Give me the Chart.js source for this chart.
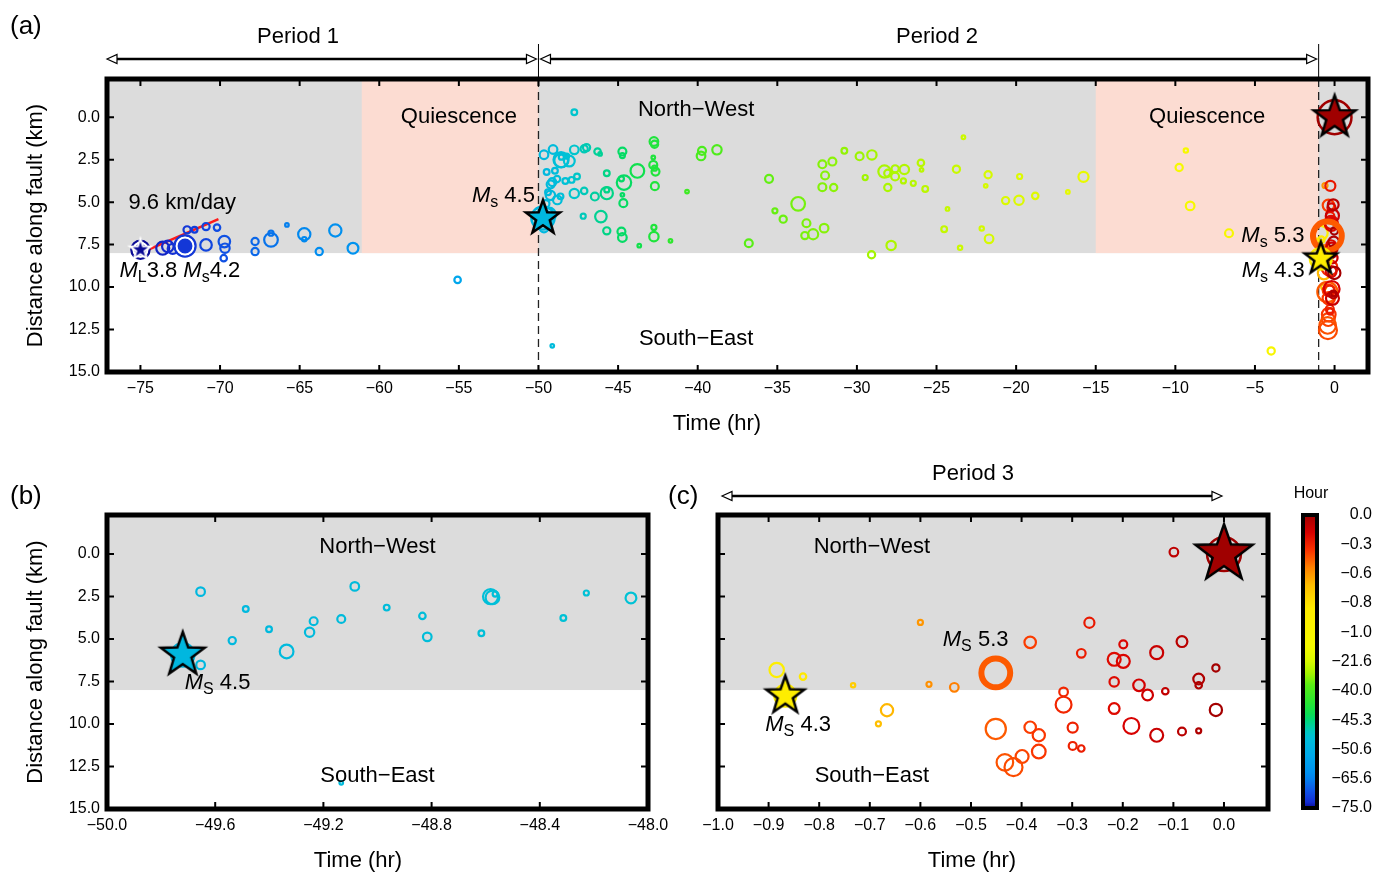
<!DOCTYPE html>
<html>
<head>
<meta charset="utf-8">
<title>Migration of seismicity along the fault</title>
<script src="https://cdn.jsdelivr.net/npm/chart.js@4.4.1/dist/chart.umd.min.js"></script>
<style>
  body { margin: 0; background: #fff; }
  .wrap { position: relative; width: 1378px; height: 875px; }
  canvas { position: absolute; }
</style>
</head>
<body>
<div class="wrap">
  <canvas id="chartA" width="1378" height="445" style="left:0;top:0"></canvas>
  <canvas id="chartB" width="680" height="435" style="left:0;top:440px"></canvas>
  <canvas id="chartC" width="660" height="435" style="left:650px;top:440px"></canvas>
  <canvas id="colorBar" width="98" height="355" style="left:1280px;top:470px"></canvas>
</div>
<script>
// ---- data (time in hours before the main shock, distance along fault in km) ----

// colour bar labels, evenly spaced on the bar
const cbTicks = [-75.0, -65.6, -50.6, -45.3, -40.0, -21.6, -1.0, -0.8, -0.6, -0.3, 0.0];

const xTicksA = [-75, -70, -65, -60, -55, -50, -45, -40, -35, -30, -25, -20, -15, -10, -5, 0];
const xTicksB = [-50.0, -49.6, -49.2, -48.8, -48.4, -48.0];
const xTicksC = [-1.0, -0.9, -0.8, -0.7, -0.6, -0.5, -0.4, -0.3, -0.2, -0.1, 0.0];
const yTicks = [0, 2.5, 5, 7.5, 10, 12.5, 15];

// period 1
const p1Time = [-73.6, -73.28, -72.97, -72.07, -71.6, -70.88, -70.88, -70.19, -69.73, -69.69, -69.77,
  -67.8, -67.8, -66.8, -66.8, -65.8, -64.71, -64.71, -63.77, -62.76, -61.65, -55.08];
const p1Dist = [7.71, 7.61, 7.75, 6.63, 6.63, 6.44, 7.52, 6.5, 7.32, 7.71, 8.30,
  7.32, 7.91, 7.22, 6.83, 6.34, 6.89, 7.18, 7.91, 6.67, 7.71, 9.58];
const p1Mag = [3.1, 2.9, 2.7, 2.3, 2.1, 2.3, 2.9, 2.2, 2.9, 2.6, 2.2,
  2.3, 2.3, 3.2, 2.0, 1.8, 3.0, 1.9, 2.3, 3.0, 2.8, 2.2];

// period 2
const p2Time = [
  -49.654, -49.654, -49.487, -49.537, -49.401, -49.336, -49.251, -49.236, -49.134, -49.084,
  -48.966, -48.834, -48.816, -48.616, -48.582, -48.575, -48.565, -48.313, -48.228, -48.063, -49.134,
  -47.75, -47.75, -47.13, -46.98, -47.92, -47.58, -47.75, -47.13, -47.19,
  -46.29, -46.13, -44.73, -44.73, -42.75, -42.71, -42.79, -42.79, -42.65, -42.71, -42.69,
  -45.71, -43.79, -44.63, -44.79, -45.71, -45.71, -46.46, -44.73, -44.67, -46.08,
  -45.71, -44.79, -44.73, -42.75, -42.75, -43.67, -41.71, -40.67, -39.73, -39.79, -38.79,
  -36.79, -35.52, -35.15, -34.63, -33.69, -33.17, -33.27, -32.75, -32.06, -32.17, -31.54, -32.0, -32.17, -31.46,
  -30.79, -29.83, -29.06, -29.48, -29.08, -27.85, -28.27, -28.06, -27.6, -27.6, -27.02, -28.06, -27.08, -26.46,
  -25.98, -25.94, -25.71, -24.31, -24.52,
  -23.31, -23.75, -21.76, -21.91, -19.78, -20.66, -19.82, -18.8, -15.77, -16.75, -22.16, -21.7, -23.52,
  -9.34, -9.76, -9.07, -6.63, -3.98];
const p2Dist = [
  2.21, 6.52, 3.23, 5.09, 4.42, 5.73, 4.60, 3.95, 3.82, 1.90,
  3.15, 3.64, 4.87, 4.66, 2.50, 2.55, 2.35, 3.76, 2.29, 2.58, 13.46,
  -0.29, 1.92, 1.86, 1.79, 3.69, 3.49, 4.49, 4.34, 5.83,
  2.02, 2.16, 2.02, 2.26, 1.43, 1.59, 2.37, 2.81, 3.2, 3.0, 4.06,
  3.30, 3.16, 3.85, 3.63, 4.47, 4.28, 4.67, 4.57, 5.06, 5.85,
  6.69, 6.73, 7.08, 6.49, 7.03, 7.56, 7.28, 4.38, 1.98, 2.28, 1.92,
  7.42, 3.63, 5.51, 6.0, 5.10, 6.24, 6.97, 6.89, 6.53, 2.77, 2.61, 3.43, 4.12, 4.14,
  1.98, 2.30, 2.22, 3.55, 8.10, 7.55, 3.20, 3.30, 3.04, 3.49, 3.08, 4.14, 3.75, 3.89,
  2.69, 3.1, 4.22, 5.40, 6.59,
  1.18, 3.06, 3.39, 4.04, 3.49, 4.91, 4.89, 4.63, 3.51, 4.40, 6.55, 7.16, 7.69,
  1.96, 2.96, 5.22, 6.83, 13.76];
const p2Mag = [
  2.5, 2.5, 2.1, 2.3, 2.1, 3.2, 2.6, 2.4, 2.4, 2.5,
  2.1, 2.2, 2.5, 2.1, 3.4, 3.2, 2.0, 2.1, 2.0, 2.8, 1.8,
  2.1, 2.5, 2.3, 2.3, 2.1, 2.1, 2.6, 2.2, 2.0,
  2.2, 1.8, 2.4, 2.0, 2.5, 2.3, 1.8, 2.4, 2.4, 2.0, 2.4,
  2.1, 3.2, 3.3, 2.0, 3.0, 2.0, 2.4, 1.8, 2.4, 2.9,
  2.3, 2.4, 2.5, 2.0, 2.6, 1.8, 1.8, 1.8, 2.4, 2.5, 2.6,
  2.4, 2.4, 2.0, 2.3, 3.2, 2.4, 2.3, 2.7, 2.5, 2.4, 2.4, 2.4, 2.4, 2.3,
  2.1, 2.4, 2.6, 2.0, 2.3, 2.6, 3.0, 2.3, 2.3, 2.4, 2.6, 2.3, 2.0, 2.0,
  2.2, 1.8, 2.1, 1.8, 2.1,
  1.8, 2.3, 2.3, 1.8, 2.0, 2.3, 2.6, 2.2, 2.7, 1.8, 1.9, 2.5, 1.9,
  1.9, 2.3, 2.5, 2.4, 2.3];

// period 3 (last hour)
const p3Time = [-0.099, -0.884, -0.832, -0.733, -0.666, -0.683, -0.600, -0.583, -0.533, -0.451,
  -0.383, -0.383, -0.366, -0.366, -0.399, -0.433, -0.416, -0.317, -0.317, -0.299,
  -0.299, -0.282, -0.282, -0.266, -0.217, -0.199, -0.199, -0.217, -0.217, -0.183,
  -0.168, -0.151, -0.133, -0.133, -0.116, -0.083, -0.083, -0.050, -0.050, -0.050, -0.016, -0.016];
const p3Dist = [-0.12, 6.82, 7.21, 7.72, 9.19, 9.99, 4.02, 7.66, 7.84, 10.29,
  5.19, 10.19, 10.66, 11.62, 11.91, 12.26, 12.54, 8.11, 8.86, 10.21,
  11.29, 11.44, 5.84, 4.04, 6.19, 6.31, 5.31, 7.52, 9.09, 10.11,
  7.72, 8.29, 5.80, 10.66, 8.07, 5.15, 10.44, 7.35, 7.72, 10.40, 6.70, 9.17];
const p3Mag = [2.5, 3.3, 2.2, 1.9, 3.0, 2.0, 2.0, 2.0, 2.5, 4.1,
  2.9, 2.9, 3.0, 3.2, 3.1, 3.6, 3.8, 2.5, 3.5, 2.7,
  2.4, 2.2, 2.5, 2.7, 3.1, 3.1, 2.4, 2.6, 2.8, 3.5,
  2.9, 2.8, 3.1, 3.1, 2.2, 2.8, 2.4, 2.8, 2.2, 2.0, 2.3, 3.0];

// labelled shocks
const shockName = ['ML 3.8', 'Ms 4.2', 'Ms 4.5', 'Ms 5.3', 'Ms 4.3', 'Main'];
const shockTime = [-75.0, -72.2, -49.72, -0.451, -0.867, 0.0];
const shockDist = [7.8, 7.58, 5.93, 6.99, 8.33, 0.0];
const shockMag = [3.8, 4.2, 4.5, 5.3, 4.3, 6.0];

// zones
const nwLimit = 8.0;                 // grey: north-west segment
const quietFrom = [-61.1, -15.0];
const quietTo = [-50.0, -1.0];
const periodBreaks = [-50.0, -1.0];
// migration front, 9.6 km/day
const rateTime = [-75.0, -70.1];
const rateDist = [8.0, 6.0];

// ---- helpers ----
const fam = '"Liberation Sans", Arial, Helvetica, sans-serif';
Chart.defaults.font.family = fam;
Chart.defaults.color = '#000';
Chart.defaults.animation = false;
Chart.defaults.plugins.legend.display = false;
Chart.defaults.plugins.tooltip.enabled = false;

const fmt = (v, d) => (v < -1e-9 ? '\u2212' : '') + Math.abs(v).toFixed(d);

const jet = [
  [0.00, [10, 10, 150]], [0.02, [20, 45, 210]], [0.06, [15, 85, 230]], [0.11, [0, 140, 240]],
  [0.18, [0, 170, 235]], [0.25, [0, 195, 212]], [0.30, [0, 215, 120]], [0.32, [10, 222, 85]],
  [0.36, [40, 230, 50]], [0.42, [90, 238, 20]], [0.46, [165, 245, 0]], [0.50, [215, 250, 0]],
  [0.55, [245, 250, 0]], [0.68, [255, 235, 0]], [0.76, [255, 190, 0]], [0.82, [255, 130, 0]],
  [0.88, [250, 50, 0]], [0.94, [215, 0, 0]], [1.00, [160, 0, 0]]
];
function jetAt(f) {
  for (let i = 0; i < jet.length - 1; i++) {
    const [f0, c0] = jet[i], [f1, c1] = jet[i + 1];
    if (f <= f1) {
      const k = Math.max(0, (f - f0) / (f1 - f0));
      return 'rgb(' + c0.map((c, j) => Math.round(c + (c1[j] - c) * k)).join(',') + ')';
    }
  }
  return 'rgb(160,0,0)';
}
function timeColor(t) {
  const n = cbTicks.length - 1;
  if (t <= cbTicks[0]) return jetAt(0);
  for (let i = 0; i < n; i++) {
    if (t <= cbTicks[i + 1]) return jetAt((i + (t - cbTicks[i]) / (cbTicks[i + 1] - cbTicks[i])) / n);
  }
  return jetAt(1);
}
const magRadius = m => 1.8 + (m - 1.8) * 3.6;

const toPts = (T, D, M) => T.map((t, i) => ({ x: t, y: D[i], m: M[i] }));
const allEvents = toPts(p1Time, p1Dist, p1Mag).concat(toPts(p2Time, p2Dist, p2Mag), toPts(p3Time, p3Dist, p3Mag));
const shocks = shockName.map((n, i) => ({ x: shockTime[i], y: shockDist[i], m: shockMag[i], name: n }));

function starImage(R, fill, stroke, lw) {
  const pad = Math.ceil(lw * 2) + 2;
  const size = Math.ceil(2 * R + 2 * pad);
  const c = document.createElement('canvas');
  c.width = size; c.height = size;
  const g = c.getContext('2d');
  g.beginPath();
  for (let k = 0; k < 10; k++) {
    const r = k % 2 ? R * 0.4 : R;
    const a = -Math.PI / 2 + k * Math.PI / 5;
    g.lineTo(size / 2 + r * Math.cos(a), size / 2 + r * Math.sin(a));
  }
  g.closePath();
  g.fillStyle = fill; g.fill();
  g.lineWidth = lw; g.strokeStyle = stroke; g.stroke();
  return c;
}

function label(ctx, text, x, y, align, size, rot) {
  ctx.save();
  ctx.font = size + 'px ' + fam;
  ctx.fillStyle = '#000';
  ctx.textAlign = align; ctx.textBaseline = 'middle';
  ctx.translate(x, y);
  if (rot) ctx.rotate(rot);
  ctx.fillText(text, 0, 0);
  ctx.restore();
}

// M with subscript, e.g. [['M','it'],['s','sub'],[' 4.5']]
function rich(ctx, parts, x, y, align, size) {
  ctx.save();
  const fontOf = p => (p[1] === 'it' ? 'italic ' : '') + (p[1] === 'sub' ? Math.round(size * 0.72) : size) + 'px ' + fam;
  let w = 0;
  parts.forEach(p => { ctx.font = fontOf(p); w += ctx.measureText(p[0]).width; });
  let cx = align === 'right' ? x - w : align === 'center' ? x - w / 2 : x;
  ctx.fillStyle = '#000'; ctx.textAlign = 'left'; ctx.textBaseline = 'middle';
  parts.forEach(p => {
    ctx.font = fontOf(p);
    ctx.fillText(p[0], cx, y + (p[1] === 'sub' ? size * 0.3 : 0));
    cx += ctx.measureText(p[0]).width;
  });
  ctx.restore();
}
const ms = (sub, val) => [['M', 'it'], [sub, 'sub'], [val]];

function arrow(ctx, x1, x2, y) {
  const hl = 10, hw = 4.5;
  ctx.save();
  ctx.strokeStyle = '#000';
  ctx.lineWidth = 2.5;
  ctx.beginPath(); ctx.moveTo(x1 + hl, y); ctx.lineTo(x2 - hl, y); ctx.stroke();
  ctx.lineWidth = 1.2; ctx.fillStyle = '#fff';
  [[x1, 1], [x2, -1]].forEach(([tx, d]) => {
    ctx.beginPath();
    ctx.moveTo(tx, y); ctx.lineTo(tx + d * hl, y - hw); ctx.lineTo(tx + d * hl, y + hw);
    ctx.closePath(); ctx.fill(); ctx.stroke();
  });
  ctx.restore();
}

// ---- plugins ----
function zonesPlugin(withQuiet) {
  return {
    id: 'zones',
    beforeDatasetsDraw(chart) {
      const { ctx, chartArea: a, scales: { x, y } } = chart;
      const yNW = y.getPixelForValue(nwLimit);
      ctx.save();
      ctx.fillStyle = '#dcdcdc';
      ctx.fillRect(a.left, a.top, a.width, yNW - a.top);
      if (withQuiet) {
        ctx.fillStyle = '#fcdcd2';
        quietFrom.forEach((q, i) => {
          const x0 = x.getPixelForValue(q), x1 = x.getPixelForValue(quietTo[i]);
          ctx.fillRect(x0, a.top, x1 - x0, yNW - a.top);
        });
        ctx.strokeStyle = '#222'; ctx.lineWidth = 1.3; ctx.setLineDash([8, 5]);
        ctx.beginPath();
        periodBreaks.forEach(b => {
          const px = x.getPixelForValue(b);
          ctx.moveTo(px, a.top); ctx.lineTo(px, a.bottom);
        });
        ctx.stroke();
      }
      ctx.restore();
    }
  };
}

const framePlugin = {
  id: 'frame',
  afterDatasetsDraw(chart) {
    const { ctx, chartArea: a, scales: { x, y } } = chart;
    ctx.save();
    ctx.strokeStyle = '#000'; ctx.lineWidth = 2;
    ctx.beginPath();
    x.ticks.forEach(t => {
      const px = x.getPixelForValue(t.value);
      ctx.moveTo(px, a.bottom); ctx.lineTo(px, a.bottom - 7);
      ctx.moveTo(px, a.top); ctx.lineTo(px, a.top + 7);
    });
    y.ticks.forEach(t => {
      const py = y.getPixelForValue(t.value);
      ctx.moveTo(a.left, py); ctx.lineTo(a.left + 7, py);
      ctx.moveTo(a.right, py); ctx.lineTo(a.right - 7, py);
    });
    ctx.stroke();
    ctx.lineWidth = 5;
    ctx.strokeRect(a.left, a.top, a.width, a.height);
    ctx.restore();
  }
};

const decor = fn => ({ id: 'decor', afterDraw: chart => fn(chart) });

// ---- chart factory ----
function faultChart(id, cfg) {
  const inRange = p => p.x >= cfg.xMin - 0.01 && p.x <= cfg.xMax;
  const evts = allEvents.filter(inRange);
  const sh = shocks.filter(inRange);
  const filled = ['ML 3.8', 'Ms 4.2', 'Ms 4.5', 'Ms 4.3'];
  const whiteEdge = ['ML 3.8', 'Ms 4.2'];
  const disks = sh.filter(s => filled.includes(s.name));
  const stars = cfg.stars.map(([n, R]) => {
    const s = shocks.find(q => q.name === n);
    const white = n === 'ML 3.8';
    return { x: s.x, y: s.y, img: starImage(R, timeColor(s.x), white ? '#fff' : '#000', white ? 2 : 2.5) };
  });

  const datasets = [];
  if (cfg.rate) {
    datasets.push({
      data: rateTime.map((t, i) => ({ x: t, y: rateDist[i] })),
      showLine: true, borderColor: '#ff1a1a', borderWidth: 2.5, pointRadius: 0, order: 5
    });
  }
  datasets.push({
    data: evts,
    pointRadius: c => magRadius(c.raw.m),
    borderColor: c => timeColor(c.raw.x),
    backgroundColor: 'rgba(0,0,0,0)',
    borderWidth: 2.2, order: 4
  });
  datasets.push({
    data: sh,
    pointRadius: c => magRadius(c.raw.m),
    borderColor: c => timeColor(c.raw.x),
    backgroundColor: 'rgba(0,0,0,0)',
    borderWidth: c => c.raw.name === 'Ms 5.3' ? 6 : 2.5, order: 3
  });
  datasets.push({
    data: disks,
    pointRadius: c => magRadius(c.raw.m) - 2,
    backgroundColor: c => timeColor(c.raw.x),
    borderColor: c => whiteEdge.includes(c.raw.name) ? '#fff' : timeColor(c.raw.x),
    borderWidth: c => whiteEdge.includes(c.raw.name) ? 2 : 0, order: 2
  });
  datasets.push({
    data: stars.map(s => ({ x: s.x, y: s.y })),
    pointStyle: stars.map(s => s.img),
    pointRadius: 10, clip: false, order: 1
  });

  return new Chart(document.getElementById(id), {
    type: 'scatter',
    data: { datasets },
    options: {
      responsive: false,
      layout: { padding: cfg.pad, autoPadding: false },
      scales: {
        x: {
          type: 'linear', min: cfg.xMin, max: cfg.xMax,
          grid: { display: false, drawTicks: false }, border: { display: false },
          afterBuildTicks: s => { s.ticks = cfg.xTicks.map(v => ({ value: v })); },
          ticks: { font: { size: 16 }, padding: 7, maxRotation: 0, autoSkip: false, callback: v => fmt(v, cfg.xDec) },
          afterFit: s => { s.height = 60; }
        },
        y: {
          type: 'linear', reverse: true, min: cfg.yMin, max: 15,
          grid: { display: false, drawTicks: false }, border: { display: false },
          afterBuildTicks: s => { s.ticks = yTicks.map(v => ({ value: v })); },
          ticks: { display: cfg.yLabels, font: { size: 16 }, padding: 7, autoSkip: false, callback: v => fmt(v, 1) },
          title: { display: cfg.yLabels, text: 'Distance along fault (km)', font: { size: 22 }, padding: { top: 16, bottom: 0 } },
          afterFit: s => { s.width = cfg.yLabels ? 100 : 0; }
        }
      }
    },
    plugins: [zonesPlugin(cfg.quiet), framePlugin, decor(cfg.draw)]
  });
}

const shockPx = (chart, name) => {
  const s = shocks.find(q => q.name === name);
  return [chart.scales.x.getPixelForValue(s.x), chart.scales.y.getPixelForValue(s.y)];
};

// (a) whole sequence
faultChart('chartA', {
  xMin: -77.1, xMax: 2.1, yMin: -2.25, xTicks: xTicksA, xDec: 0, yLabels: true,
  pad: { left: 7, right: 10, top: 79, bottom: 13 }, quiet: true, rate: true,
  stars: [['ML 3.8', 11], ['Ms 4.5', 18], ['Ms 4.3', 17], ['Main', 22]],
  draw(chart) {
    const { ctx, chartArea: a, scales: { x, y } } = chart;
    label(ctx, '(a)', 10, 27, 'left', 26);
    const b1 = x.getPixelForValue(periodBreaks[0]), b2 = x.getPixelForValue(periodBreaks[1]);
    ctx.save();
    ctx.strokeStyle = '#000'; ctx.lineWidth = 1;
    ctx.beginPath();
    [b1, b2].forEach(px => { ctx.moveTo(px, 44); ctx.lineTo(px, a.top); });
    ctx.stroke();
    ctx.restore();
    arrow(ctx, a.left, b1 - 2, 59);
    arrow(ctx, b1 + 2, b2 - 2, 59);
    label(ctx, 'Period 1', 298, 37, 'center', 22);
    label(ctx, 'Period 2', 937, 37, 'center', 22);
    label(ctx, 'Time (hr)', 717, 424, 'center', 22);
    label(ctx, 'Quiescence', x.getPixelForValue(-55.0), y.getPixelForValue(0), 'center', 22);
    label(ctx, 'Quiescence', x.getPixelForValue(-8.0), y.getPixelForValue(0), 'center', 22);
    label(ctx, 'North\u2212West', x.getPixelForValue(-40.1), y.getPixelForValue(-0.45), 'center', 22);
    label(ctx, 'South\u2212East', x.getPixelForValue(-40.1), y.getPixelForValue(13.05), 'center', 22);
    label(ctx, '9.6 km/day', x.getPixelForValue(-75.75), y.getPixelForValue(5.06), 'left', 22);
    let [px, py] = shockPx(chart, 'Ms 4.5');
    rich(ctx, ms('s', ' 4.5'), px - 8, py - 22, 'right', 22);
    [px, py] = shockPx(chart, 'ML 3.8');
    rich(ctx, [['M', 'it'], ['L', 'sub'], ['3.8 '], ['M', 'it'], ['s', 'sub'], ['4.2']], px - 21, py + 21, 'left', 22);
    [px, py] = shockPx(chart, 'Ms 5.3');
    rich(ctx, ms('s', ' 5.3'), px - 23, py, 'right', 22);
    [px, py] = shockPx(chart, 'Ms 4.3');
    rich(ctx, ms('s', ' 4.3'), px - 16, py + 12, 'right', 22);
  }
});

// (b) after the Ms 4.5
faultChart('chartB', {
  xMin: -50.0, xMax: -48.0, yMin: -2.3, xTicks: xTicksB, xDec: 1, yLabels: true,
  pad: { left: 7, right: 32, top: 75, bottom: 6 }, quiet: false, rate: false,
  stars: [['Ms 4.5', 23]],
  draw(chart) {
    const { ctx, scales: { x, y } } = chart;
    label(ctx, '(b)', 10, 57, 'left', 26);
    label(ctx, 'Time (hr)', 358, 421, 'center', 22);
    label(ctx, 'North\u2212West', x.getPixelForValue(-49.0), y.getPixelForValue(-0.41), 'center', 22);
    label(ctx, 'South\u2212East', x.getPixelForValue(-49.0), y.getPixelForValue(13.05), 'center', 22);
    const [px, py] = shockPx(chart, 'Ms 4.5');
    rich(ctx, ms('S', ' 4.5'), px + 2, py + 28, 'left', 22);
  }
});

// (c) last hour
faultChart('chartC', {
  xMin: -1.0, xMax: 0.087, yMin: -2.3, xTicks: xTicksC, xDec: 1, yLabels: false,
  pad: { left: 68, right: 42, top: 75, bottom: 6 }, quiet: false, rate: false,
  stars: [['Ms 4.3', 20], ['Main', 30]],
  draw(chart) {
    const { ctx, scales: { x, y } } = chart;
    label(ctx, '(c)', 18, 57, 'left', 26);
    arrow(ctx, x.getPixelForValue(-1.0) + 4, x.getPixelForValue(0.0) - 2, 56);
    label(ctx, 'Period 3', 323, 34, 'center', 22);
    label(ctx, 'Time (hr)', 322, 421, 'center', 22);
    label(ctx, 'North\u2212West', x.getPixelForValue(-0.696), y.getPixelForValue(-0.41), 'center', 22);
    label(ctx, 'South\u2212East', x.getPixelForValue(-0.696), y.getPixelForValue(13.05), 'center', 22);
    let [px, py] = shockPx(chart, 'Ms 5.3');
    rich(ctx, ms('S', ' 5.3'), px - 53, py - 33, 'left', 22);
    [px, py] = shockPx(chart, 'Ms 4.3');
    rich(ctx, ms('S', ' 4.3'), px - 20, py + 29, 'left', 22);
  }
});

// colour bar
new Chart(document.getElementById('colorBar'), {
  type: 'bar',
  data: {
    labels: [''],
    datasets: [{
      data: [[0, cbTicks.length - 1]],
      backgroundColor: c => {
        const a = c.chart.chartArea;
        if (!a) return '#888';
        const g = c.chart.ctx.createLinearGradient(0, a.bottom, 0, a.top);
        for (let i = 0; i <= 50; i++) g.addColorStop(i / 50, jetAt(i / 50));
        return g;
      },
      borderWidth: 0, barPercentage: 1, categoryPercentage: 1
    }]
  },
  options: {
    responsive: false,
    layout: { padding: { left: 23, right: 6, top: 45, bottom: 17 }, autoPadding: false },
    scales: {
      x: { display: false },
      y: {
        position: 'right', min: 0, max: cbTicks.length - 1,
        grid: { display: false, drawTicks: false }, border: { display: false },
        afterBuildTicks: s => { s.ticks = cbTicks.map((v, i) => ({ value: i })); },
        ticks: { font: { size: 16 }, padding: 0, crossAlign: 'far', autoSkip: false, callback: v => fmt(cbTicks[v], 1) },
        afterFit: s => { s.width = 55; }
      }
    }
  },
  plugins: [{
    id: 'cbFrame',
    afterDraw(chart) {
      const { ctx, chartArea: a } = chart;
      ctx.save();
      ctx.strokeStyle = '#000'; ctx.lineWidth = 4;
      ctx.strokeRect(a.left, a.top, a.width, a.height);
      ctx.restore();
      label(ctx, 'Hour', 31, 24, 'center', 16);
    }
  }]
});
</script>
</body>
</html>
